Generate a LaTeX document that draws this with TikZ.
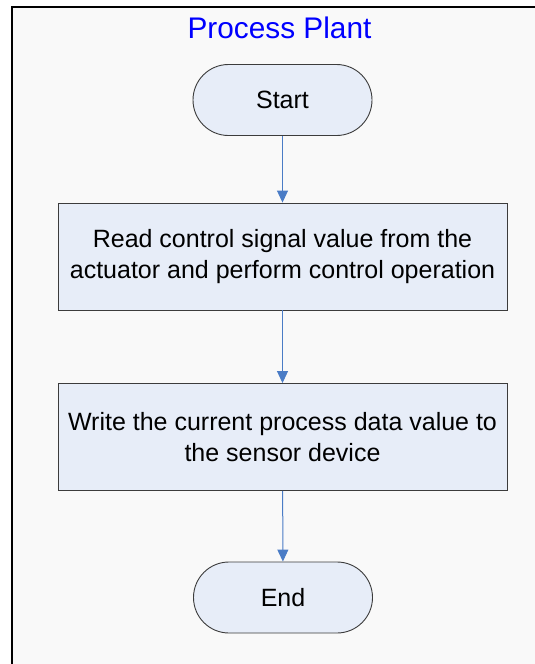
\documentclass[tikz,border=0pt]{standalone}
\usepackage{fontspec}
\setmainfont{Liberation Sans}
\usetikzlibrary{arrows.meta}

\definecolor{pagebg}{HTML}{F9F9F9}
\definecolor{shapefill}{HTML}{E7EDF8}
\definecolor{shapeline}{HTML}{3C3C3C}
\definecolor{flowblue}{HTML}{4A7CC6}
\definecolor{titleblue}{HTML}{0000FF}

\tikzset{
  terminal/.style={draw=shapeline, fill=shapefill, line width=0.9pt,
    rounded corners=35.5pt, minimum width=179pt, minimum height=71pt,
    inner sep=0pt, font=\fontsize{25}{31}\selectfont},
  process/.style={draw=shapeline, fill=shapefill, line width=0.9pt,
    minimum width=449pt, minimum height=107pt, inner sep=0pt,
    align=center, font=\fontsize{25}{31}\selectfont},
  flow/.style={draw=flowblue, line width=1pt,
    -{Triangle[width=11pt,length=12pt]}},
}

\begin{document}
\begin{tikzpicture}[x=1pt, y=-1pt]
  \useasboundingbox (0,0) rectangle (535,664);
  % page and frame
  \fill[white] (0,0) rectangle (535,664);
  \fill[pagebg] (12,7) rectangle (535,664);
  \draw[black, line width=1.5pt] (12,664) -- (12,7) -- (535,7);

  % title
  \node[text=titleblue, font=\fontsize{29.8}{36}\selectfont, anchor=base]
    (title) at (279.5,38.3) {Process Plant};

  % flowchart
  \node[terminal] (start) at (282.5,100) {Start};
  \node[process] (read) at (282.5,256.5)
    {Read control signal value from the\\actuator and perform control operation};
  \node[process] (write) at (282.5,437)
    {Write the current process data value to\\the sensor device};
  \node[terminal] (end) at (283,597.5) {End};

  \draw[flow] (start) -- (read);
  \draw[flow] (read) -- (write);
  \draw[flow] (write) -- (end);
\end{tikzpicture}
\end{document}
